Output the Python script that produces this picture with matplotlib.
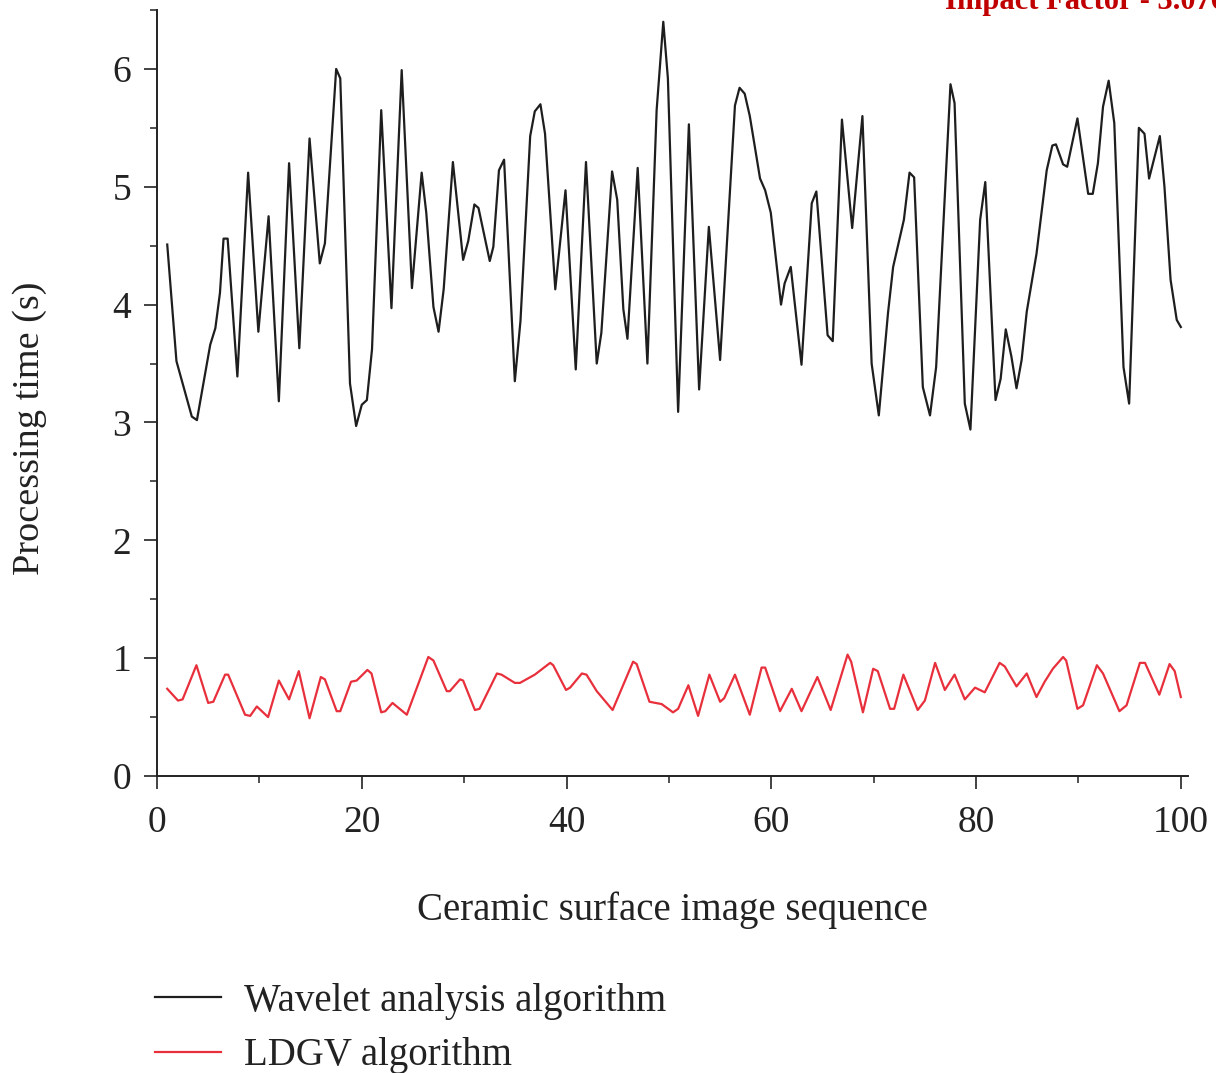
import matplotlib
matplotlib.use("Agg")
import matplotlib.pyplot as plt
from matplotlib.ticker import MultipleLocator

# ---- data ----
wavelet_x = [1.0, 1.9, 2.6, 3.4, 3.9, 5.2, 5.7, 6.15, 6.5, 6.9, 7.85, 8.9, 9.9, 10.9, 11.9,
             12.9, 13.9, 14.9, 15.9, 16.4, 17.5, 17.9, 18.85, 19.45, 20.0, 20.5, 21.0, 21.9,
             22.9, 23.9, 24.9, 25.85, 26.3, 27.0, 27.5, 28.0, 28.9, 29.9, 30.4, 31.0, 31.4,
             32.5, 32.85, 33.4, 33.9, 34.95, 35.5, 36.45, 36.9, 37.45, 37.9, 38.9, 39.9, 40.9,
             41.9, 42.95, 43.4, 44.45, 44.95, 45.55, 45.95, 46.95, 47.9, 48.8, 49.45, 49.9,
             50.9, 51.95, 52.95, 53.9, 55.0, 56.45, 56.9, 57.4, 57.9, 58.9, 59.4, 59.95, 60.95,
             61.3, 61.9, 62.95, 63.95, 64.4, 65.5, 66.0, 66.9, 67.9, 68.9, 69.8, 70.5, 71.4,
             71.9, 72.95, 73.5, 73.95, 74.8, 75.5, 76.1, 77.5, 77.9, 78.9, 79.45, 80.4, 80.9,
             81.9, 82.4, 82.9, 83.45, 83.95, 84.45, 84.95, 85.9, 86.9, 87.45, 87.8, 88.5, 88.9,
             89.9, 90.95, 91.4, 91.9, 92.4, 92.95, 93.5, 94.4, 94.95, 95.9, 96.45, 96.9, 97.95,
             98.4, 99.0, 99.6, 100.0]
wavelet_y = [4.51, 3.52, 3.30, 3.05, 3.02, 3.66, 3.80, 4.10, 4.56, 4.56, 3.39, 5.12, 3.77, 4.75, 3.18,
             5.20, 3.63, 5.41, 4.35, 4.52, 6.00, 5.92, 3.33, 2.97, 3.15, 3.19, 3.62, 5.65,
             3.97, 5.99, 4.14, 5.12, 4.78, 3.98, 3.77, 4.13, 5.21, 4.38, 4.54, 4.85, 4.82,
             4.37, 4.49, 5.14, 5.23, 3.35, 3.86, 5.43, 5.64, 5.70, 5.45, 4.13, 4.97, 3.45,
             5.21, 3.50, 3.76, 5.13, 4.89, 3.96, 3.71, 5.16, 3.50, 5.65, 6.40, 5.92,
             3.09, 5.53, 3.28, 4.66, 3.53, 5.69, 5.84, 5.79, 5.60, 5.07, 4.97, 4.78, 4.00,
             4.18, 4.32, 3.49, 4.86, 4.96, 3.74, 3.69, 5.57, 4.65, 5.60, 3.50, 3.06, 3.93,
             4.32, 4.72, 5.12, 5.08, 3.30, 3.06, 3.47, 5.87, 5.71, 3.16, 2.94, 4.72, 5.04,
             3.19, 3.37, 3.79, 3.56, 3.29, 3.53, 3.94, 4.43, 5.14, 5.35, 5.36, 5.19, 5.17,
             5.58, 4.94, 4.94, 5.20, 5.68, 5.90, 5.54, 3.47, 3.16, 5.50, 5.45, 5.07, 5.43,
             5.00, 4.21, 3.87, 3.81]

ldgv_x = [1.0, 2.05, 2.5, 3.85, 5.0, 5.5, 6.65, 6.95, 8.6, 9.1, 9.75, 10.85, 11.9, 12.9, 13.85,
          14.9, 16.0, 16.4, 17.55, 17.9, 18.95, 19.5, 20.55, 20.95, 21.9, 22.3, 23.0, 24.4,
          26.5, 27.0, 28.3, 28.6, 29.6, 29.9, 31.05, 31.5, 33.2, 33.65, 34.95, 35.45, 36.9,
          38.4, 38.7, 39.95, 40.35, 41.5, 41.95, 42.95, 44.5, 46.5, 46.85, 48.1, 48.7, 49.3,
          50.4, 50.9, 51.9, 52.85, 53.95, 55.0, 55.4, 56.45, 57.9, 59.05, 59.4, 60.85, 62.0,
          62.95, 64.5, 65.8, 67.45, 67.8, 68.95, 69.95, 70.4, 71.6, 72.0, 72.9, 74.3, 75.0,
          76.0, 76.95, 77.9, 78.9, 79.9, 80.85, 82.3, 82.8, 83.95, 84.95, 85.9, 86.7, 87.5,
          88.5, 88.8, 89.9, 90.45, 91.8, 92.4, 94.0, 94.7, 96.0, 96.5, 97.9, 98.9, 99.4, 100.0]
ldgv_y = [0.74, 0.64, 0.65, 0.94, 0.62, 0.63, 0.86, 0.86, 0.52, 0.51, 0.59, 0.50, 0.81, 0.65, 0.89,
          0.49, 0.84, 0.82, 0.55, 0.55, 0.80, 0.81, 0.90, 0.87, 0.54, 0.55, 0.62, 0.52,
          1.01, 0.98, 0.72, 0.72, 0.82, 0.81, 0.56, 0.57, 0.87, 0.86, 0.79, 0.79, 0.86,
          0.96, 0.94, 0.73, 0.75, 0.87, 0.86, 0.72, 0.56, 0.97, 0.95, 0.63, 0.62, 0.61,
          0.54, 0.57, 0.77, 0.51, 0.86, 0.63, 0.66, 0.86, 0.52, 0.92, 0.92, 0.55, 0.74,
          0.55, 0.84, 0.56, 1.03, 0.97, 0.54, 0.91, 0.89, 0.57, 0.57, 0.86, 0.56, 0.64,
          0.96, 0.73, 0.86, 0.65, 0.75, 0.71, 0.96, 0.93, 0.76, 0.87, 0.67, 0.80, 0.91,
          1.01, 0.98, 0.57, 0.60, 0.94, 0.87, 0.55, 0.60, 0.96, 0.96, 0.69, 0.95, 0.89, 0.67]

series_labels = ["Wavelet analysis algorithm", "LDGV algorithm"]
x_label = "Ceramic surface image sequence"
y_label = "Processing time (s)"
watermark = "Impact Factor - 3.076"

# ---- drawing ----
plt.rcParams['font.family'] = ['Liberation Serif', 'DejaVu Serif']
W, H = 1216, 1073
fig = plt.figure(figsize=(W / 100, H / 100), dpi=100)
ax = fig.add_axes([157 / W, 1 - 776 / H, (1188 - 157) / W, (776 - 10) / H])

ax.plot(wavelet_x, wavelet_y, color='#1e1e1e', lw=1.6, label=series_labels[0])
ax.plot(ldgv_x, ldgv_y, color='#e8303c', lw=1.6, label=series_labels[1])

ax.set_xlim(0, 100.7)
ax.set_ylim(0, 6.5)
ax.xaxis.set_major_locator(MultipleLocator(20))
ax.xaxis.set_minor_locator(MultipleLocator(10))
ax.yaxis.set_major_locator(MultipleLocator(1))
ax.yaxis.set_minor_locator(MultipleLocator(0.5))

for s in ['top', 'right']:
    ax.spines[s].set_visible(False)
for s in ['left', 'bottom']:
    ax.spines[s].set_linewidth(1.4)
    ax.spines[s].set_color('#222222')

ax.tick_params(which='major', direction='out', length=9.5, width=1.2, colors='#222222',
               labelsize=27, labelcolor='#222222')
ax.tick_params(axis='x', which='major', pad=12)
ax.tick_params(axis='y', which='major', pad=9)
ax.tick_params(which='minor', direction='out', length=5, width=1.1, colors='#222222')

ax.set_xlabel(x_label, fontsize=28, color='#222222')
ax.xaxis.set_label_coords(0.5, (776 - 891) / 766, transform=ax.transAxes)
ax.set_ylabel(y_label, fontsize=27.5, color='#222222')
ax.yaxis.set_label_coords((47 - 157) / 1031, (776 - 428) / 766, transform=ax.transAxes)

leg = fig.legend(loc='upper left', bbox_to_anchor=(155 / W, 1 - 983 / H), frameon=False,
                 fontsize=28, handlelength=1.7, handletextpad=0.6, labelspacing=0.45,
                 borderpad=0, borderaxespad=0)
for t in leg.get_texts():
    t.set_color('#222222')

fig.text(945 / W, 1 - 9 / H, watermark, color='#C00000', fontsize=22, fontweight='bold',
         ha='left', va='baseline')

fig.savefig('out.png', dpi=100)
